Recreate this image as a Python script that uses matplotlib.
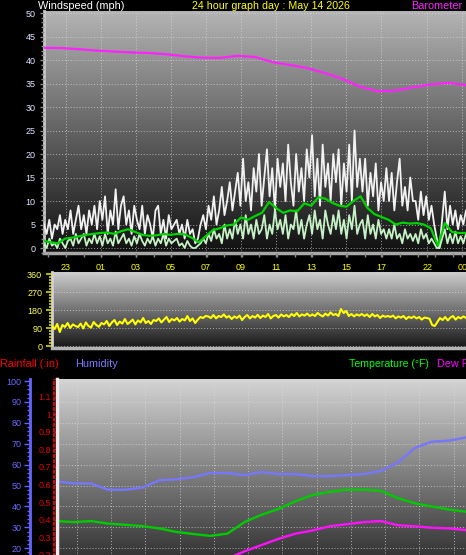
import numpy as np
import matplotlib.pyplot as plt
from matplotlib.ticker import MultipleLocator, FixedLocator, FuncFormatter

plt.rcParams['font.family'] = ['Liberation Sans', 'DejaVu Sans']

# ---------------- data ----------------
hour_labels = ['23', '01', '03', '05', '07', '09', '11', '13', '15', '17', '22', '00']
hour_ticks = [1.25, 3.24, 5.23, 7.22, 9.21, 11.2, 13.19, 15.18, 17.17, 19.16, 21.8, 23.8]

# wind gust (mph)
gust = [5, 3, 6, 2, 5, 4, 7, 3, 6, 4,
        8, 3, 6, 9, 4, 7, 3, 8, 5, 9,
        4, 10, 6, 11, 3, 8, 5, 12.5, 4, 9,
        11, 5, 8, 3, 9, 6, 4, 9, 3, 7,
        5, 2, 8, 9, 3, 6, 2, 7, 4, 5,
        6, 3, 5, 2, 6, 3, 4, 1, 2, 5,
        7, 4, 9, 6, 11, 5, 8, 13, 7, 10,
        14, 8, 12, 16, 9, 19, 10, 14, 8, 17,
        12, 20, 9, 15, 21, 11, 17, 8, 19, 13,
        18, 10, 22, 14, 9, 20, 12, 17, 10, 21,
        15, 24, 11, 19, 9, 22, 13, 18, 10, 20,
        14, 21, 9, 18, 12, 22, 10, 25, 13, 19,
        12, 19, 9, 16, 11, 18, 8, 14, 10, 17,
        10, 16, 8, 14, 19, 9, 13, 8, 15, 10,
        10, 6, 12, 7, 11, 6, 9, 5, 2, 0,
        6, 12, 4, 9, 5, 8, 4, 7, 5, 8]

# wind speed (mph)
speed = [1, 0, 2, 0.5, 1, 0, 2, 1, 0, 1.5,
         2, 0.5, 3, 1, 2, 3, 0.5, 2, 1, 3,
         1, 2.5, 0.5, 3, 1, 2, 0.5, 3.5, 1, 2,
         3, 1, 2, 0.5, 2.5, 1, 3, 1.5, 0.5, 2,
         1, 2.5, 0.5, 2, 1, 3, 0.5, 2, 1, 1.5,
         2, 0.5, 1, 0, 1.5, 0.5, 0, 0, 0.5, 1,
         2, 1, 3, 1.5, 4, 2, 3, 1, 5, 2,
         4, 2, 6, 3, 5, 2, 7, 3, 5, 2,
         6, 3, 4, 7, 2, 5, 3, 8, 4, 6,
         3, 7, 2, 5, 4, 8, 3, 6, 2, 5,
         7, 3, 8, 4, 6, 2, 8, 5, 3, 7,
         4, 8, 3, 6, 2, 7, 4, 9, 3, 5,
         6, 2, 7, 3, 5, 2, 6, 3, 4, 2,
         4, 2, 5, 2, 3, 1, 4, 2, 3, 1.5,
         3, 1, 4, 2, 3, 1, 2, 1, 0, 0,
         2, 4, 1, 3, 1, 3.5, 1, 2.5, 1, 3]

# average wind speed (mph)
avg_speed = [1.5, 1.2, 1.0, 2.0, 2.2, 2.5, 2.8, 3.0, 3.2, 3.3,
             3.0, 3.6, 4.0, 3.4, 2.8, 2.6, 2.7, 3.0, 2.8, 3.0,
             2.9, 2.2, 1.2, 2.5, 3.8, 4.2, 4.8, 5.0, 6.5, 6.0,
             6.8, 7.5, 9.8, 8.5, 7.5, 8.0, 7.8, 9.5, 9.0, 10.8,
             10.5, 9.6, 9.0, 8.8, 10.0, 11.0, 8.5, 7.2, 6.6, 6.0,
             5.0, 5.4, 5.2, 5.3, 5.0, 4.2, 0.5, 5.3, 3.4, 3.2, 3.2]

# barometer (inHg), hourly
barometer = [30.253, 30.252, 30.247, 30.241, 30.237, 30.233, 30.231, 30.225,
             30.217, 30.211, 30.210, 30.219, 30.214, 30.192, 30.180, 30.166,
             30.145, 30.120, 30.087, 30.068, 30.071, 30.085, 30.097, 30.104, 30.094]

# wind direction (degrees)
direction = [100, 85, 110, 70, 105, 95, 115, 90, 108, 100,
             95, 112, 88, 118, 100, 92, 120, 105, 96, 115,
             108, 125, 100, 118, 130, 105, 122, 112, 135, 110,
             120, 132, 108, 128, 118, 140, 115, 125, 110, 130,
             125, 138, 118, 132, 145, 120, 135, 128, 140, 122,
             135, 128, 150, 125, 138, 115, 132, 145, 140, 150,
             148, 140, 155, 138, 150, 145, 158, 142, 150, 135,
             148, 140, 152, 130, 145, 155, 138, 150, 142, 156,
             140, 152, 145, 160, 138, 150, 155, 142, 158, 148,
             155, 145, 160, 150, 165, 148, 158, 152, 162, 150,
             158, 150, 165, 155, 148, 162, 152, 168, 155, 160,
             150, 185, 165, 175, 150, 160, 148, 158, 152, 160,
             150, 158, 145, 160, 148, 155, 140, 152, 146, 150,
             145, 152, 138, 148, 142, 150, 135, 146, 140, 148,
             138, 145, 132, 142, 140, 136, 105, 100, 120, 140,
             130, 145, 128, 142, 150, 132, 145, 138, 148, 140]

# hourly humidity (%), temperature (F), dew point (F), rainfall (in)
humidity = [52, 51, 51, 48, 48, 49, 52.5, 53, 54, 56, 56, 55, 56.5,
            55.5, 55.5, 54.5, 54.5, 55, 55.5, 57, 61, 68, 71, 71.5, 73]
temperature = [33, 32.5, 33, 31.8, 31.2, 30.6, 29.5, 27.8, 26.8, 25.9, 27, 32.5, 36,
               38.8, 42.5, 45.5, 47, 48, 48, 47.5, 44, 41.5, 40, 38.5, 37.5]
dew_point = [14, 14, 13.5, 13, 13, 12.5, 12, 12, 11.5, 12, 15, 18.5, 21.5,
             24.5, 27, 28.5, 30.5, 31.5, 32.5, 33, 31, 30.5, 29.8, 29.5, 28.7]
rainfall = [0.0] * 25

# ---------------- figure ----------------
W, H = 466, 555
fig = plt.figure(figsize=(W / 100, H / 100), dpi=100, facecolor='black')


def gradient(ax, top, bottom, ylim):
    g = np.linspace(top, bottom, 256) / 255
    rgb = np.repeat(g[:, None, None], 3, axis=2)
    ax.imshow(rgb, extent=[0, 24, ylim[0], ylim[1]], aspect='auto',
              zorder=0, interpolation='bilinear')


grid_kw = dict(color='#dcdcdc', linestyle=(0, (1, 2)), linewidth=0.7, alpha=0.7)

# ---- wind speed panel ----
ylim1 = (-1.06, 50.43)
ax1 = fig.add_axes([44 / W, 1 - 253 / H, 422 / W, 242 / H])
gradient(ax1, 180, 16, ylim1)
ax1.plot(np.linspace(0, 24, len(gust)), gust, color='#f2f2f2', lw=1.3, zorder=3)
ax1.plot(np.linspace(0, 24, len(speed)), speed, color='#c6f2c6', lw=1.3, zorder=4)
ax1.plot(np.linspace(0, 24, len(avg_speed)), avg_speed, color='#00d400', lw=1.6, zorder=5)
ax1.set_xlim(0, 24)
ax1.set_ylim(*ylim1)
for s in ['top', 'right']:
    ax1.spines[s].set_visible(False)
ax1.spines['left'].set_color('#c8c8c8')
ax1.spines['left'].set_linewidth(2)
ax1.spines['bottom'].set_color('#a8a8a8')
ax1.spines['bottom'].set_linewidth(2.5)
ax1.yaxis.set_major_locator(MultipleLocator(5))
ax1.yaxis.set_minor_locator(MultipleLocator(1))
ax1.xaxis.set_major_locator(FixedLocator(hour_ticks))
ax1.set_xticklabels(hour_labels)
ax1.xaxis.set_minor_locator(FixedLocator(np.arange(0.25, 24, 1.0)))
ax1.tick_params(axis='y', which='major', colors='#909090', length=3, width=1,
                labelcolor='#dce6ff', labelsize=6.5, pad=3)
ax1.tick_params(axis='y', which='minor', colors='#909090', length=2, width=1)
ax1.tick_params(axis='x', which='both', colors='#8a8a8a', length=3, width=1,
                labelcolor='#ffff00', labelsize=6.5, pad=4)
ax1.grid(True, which='major', **grid_kw)
ax1.set_axisbelow(False)

axb = ax1.twinx()
axb.plot(np.linspace(0, 24, len(barometer)), barometer, color='#ff22ff', lw=1.6)
axb.set_ylim(29.3798, 30.4096)
axb.set_xlim(0, 24)
axb.axis('off')

# ---- wind direction panel ----
ylim2 = (-10, 370)
ax2 = fig.add_axes([52 / W, 1 - 348 / H, 414 / W, 76 / H])
gradient(ax2, 205, 22, ylim2)
ax2.plot(np.linspace(0, 24, len(direction)), direction, color='#ffff00', lw=1.5, zorder=3)
ax2.set_xlim(0, 24)
ax2.set_ylim(*ylim2)
for s in ['top', 'right']:
    ax2.spines[s].set_visible(False)
ax2.spines['left'].set_color('#d0d0d0')
ax2.spines['left'].set_linewidth(2)
ax2.spines['bottom'].set_color('#b4b4b4')
ax2.spines['bottom'].set_linewidth(2.5)
ax2.yaxis.set_major_locator(MultipleLocator(90))
ax2.yaxis.set_minor_locator(MultipleLocator(15))
ax2.set_xticks([])
ax2.tick_params(axis='y', which='major', colors='#b0b000', length=4, width=1.5,
                labelcolor='#ffff55', labelsize=6.5, pad=3)
ax2.tick_params(axis='y', which='minor', colors='#b0b000', length=2.5, width=1.5)
ax2.grid(True, axis='y', **grid_kw)

# ---- humidity / temperature panel (runs past the bottom edge) ----
ylim3 = (0, 101)
ax3 = fig.add_axes([57 / W, 1 - 590 / H, 409 / W, 211 / H])
gradient(ax3, 212, 22, ylim3)
hours = np.linspace(0, 24, len(humidity))
ax3.plot(hours, humidity, color='#7676ff', lw=1.7, zorder=3)
ax3.set_xlim(0, 24)
ax3.set_ylim(*ylim3)
for s in ['top', 'right', 'bottom']:
    ax3.spines[s].set_visible(False)
ax3.spines['left'].set_position(('axes', -27 / 409))
ax3.spines['left'].set_color('#6464ff')
ax3.spines['left'].set_linewidth(2)
ax3.yaxis.set_major_locator(MultipleLocator(10))
ax3.yaxis.set_major_formatter(FuncFormatter(lambda v, p: '' if v < 15 else '%d' % v))
ax3.yaxis.set_minor_locator(MultipleLocator(2))
ax3.xaxis.set_major_locator(FixedLocator(np.arange(1.17, 24, 2.01)))
ax3.tick_params(axis='x', which='both', length=0, labelbottom=False)
ax3.tick_params(axis='y', which='major', colors='#6464ff', length=4, width=1,
                labelcolor='#6a6aff', labelsize=6.5, pad=2)
ax3.tick_params(axis='y', which='minor', colors='#6464ff', length=2, width=1)
ax3.grid(True, **grid_kw)

axr = ax3.twinx()
axr.plot(hours, rainfall, color='#ff0000', lw=1.5)
axr.set_ylim(0, 1.2)
axr.set_xlim(0, 24)
for s in ['top', 'right', 'bottom']:
    axr.spines[s].set_visible(False)
axr.spines['left'].set_visible(True)
axr.spines['left'].set_position(('axes', -3 / 409))
axr.spines['left'].set_color('#e00000')
axr.spines['left'].set_linestyle((0, (1, 1.5)))
axr.spines['left'].set_linewidth(1.5)
axr.yaxis.set_ticks_position('left')
axr.yaxis.set_label_position('left')
axr.yaxis.set_major_locator(MultipleLocator(0.1))
axr.yaxis.set_major_formatter(FuncFormatter(lambda v, p: '' if v < 0.15 or v > 1.15 else '%g' % round(v, 1)))
axr.tick_params(axis='y', colors='#e00000', length=2, width=1, direction='inout',
                labelcolor='#e00000', labelsize=6.5, pad=1)

axt = ax3.twinx()
axt.plot(hours, temperature, color='#00cc00', lw=1.7)
axt.plot(hours, dew_point, color='#ff10ff', lw=1.7)
axt.set_ylim(0, 101)
axt.set_xlim(0, 24)
for s in ['top', 'right', 'bottom']:
    axt.spines[s].set_visible(False)
axt.spines['left'].set_visible(True)
axt.spines['left'].set_color('#ececec')
axt.spines['left'].set_linewidth(2.5)
axt.tick_params(left=False, right=False, labelleft=False, labelright=False)

# ---- titles ----
ty = 1 - 6 / H
fig.text(38 / W, ty, 'Windspeed (mph)', color='white', fontsize=7.8, va='center')
fig.text(271 / W, ty, '24 hour graph day : May 14 2026', color='#ffff00', fontsize=7.7,
         va='center', ha='center')
fig.text(462 / W, ty, 'Barometer', color='#ff22ff', fontsize=7.8, va='center', ha='right')

by = 1 - 364 / H
fig.text(0, by, 'Rainfall (.in)', color='#ff0000', fontsize=7.8, va='center')
fig.text(75 / W, by, 'Humidity', color='#7878ff', fontsize=7.8, va='center')
fig.text(349 / W, by, 'Temperature (°F)', color='#00ff00', fontsize=7.6, va='center')
fig.text(437 / W, by, 'Dew Point (°F)', color='#ff00ff', fontsize=7.8, va='center')

fig.savefig('out.png', dpi=100, facecolor='black')
